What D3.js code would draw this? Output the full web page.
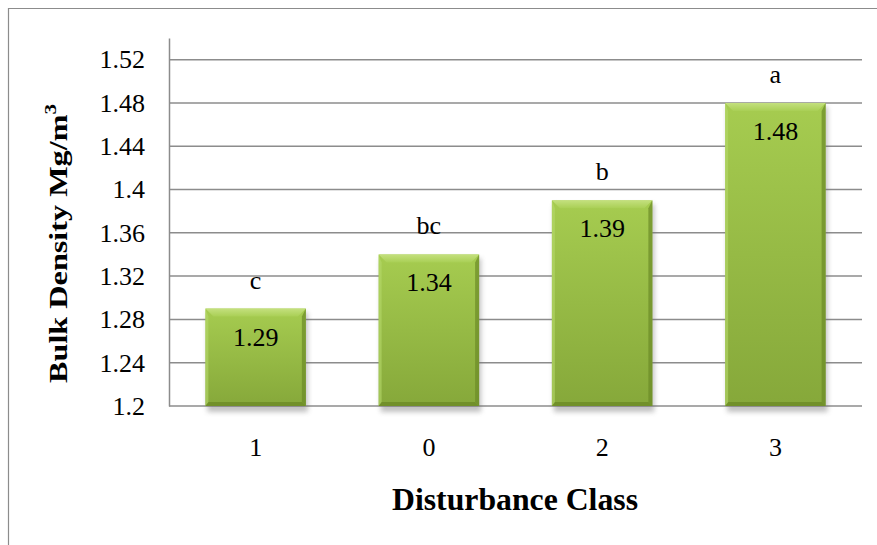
<!DOCTYPE html>
<html><head><meta charset="utf-8">
<script src="https://cdn.jsdelivr.net/npm/d3@7"></script>
<style>body{margin:0;background:#fff}svg{display:block}
text.s{font-family:"Liberation Serif","Times New Roman",serif}</style>
</head><body><svg id="c" width="877" height="545"></svg>
<script>
const categories = ["1","0","2","3"];
const values = [1.29,1.34,1.39,1.48];
const letters = ["c","bc","b","a"];
const yTicks = [1.2,1.24,1.28,1.32,1.36,1.4,1.44,1.48,1.52];
const yTitle = "Bulk Density Mg/m";
const xTitle = "Disturbance Class";

const svg = d3.select("#c");
const W=877,H=545;
const m={l:169,r:15,t:38,b:139};
const x=d3.scaleBand().domain(categories).range([m.l,W-m.r]).paddingInner(0.42).paddingOuter(0.21);
const y=d3.scaleLinear().domain([1.2,1.54]).range([H-m.b,m.t]);
const FF="Liberation Serif";

svg.append("path").attr("d",`M8.5,${H} V8.5 H${W}`).attr("fill","none").attr("stroke","#8c8c8c").attr("stroke-width",1.2);

const defs=svg.append("defs");
const g1=defs.append("linearGradient").attr("id","gf").attr("x1",0).attr("x2",0).attr("y1",0).attr("y2",1);
g1.append("stop").attr("offset","0%").attr("stop-color","#a6cc50");
g1.append("stop").attr("offset","100%").attr("stop-color","#86a83a");
const gt=defs.append("linearGradient").attr("id","gt").attr("x1",0).attr("x2",0).attr("y1",0).attr("y2",1);
gt.append("stop").attr("offset","0%").attr("stop-color","#c4e07e");
gt.append("stop").attr("offset","100%").attr("stop-color","#a9cf55");
const f=defs.append("filter").attr("id","sh").attr("x","-20%").attr("y","-20%").attr("width","140%").attr("height","140%");
f.append("feGaussianBlur").attr("stdDeviation",2.5);

svg.append("g").selectAll("line").data(yTicks).join("line")
 .attr("x1",m.l).attr("x2",W-m.r).attr("y1",d=>y(d)).attr("y2",d=>y(d))
 .attr("stroke","#8c8c8c").attr("stroke-width",1.5);
const ya=svg.append("g").attr("transform",`translate(${m.l},0)`)
 .call(d3.axisLeft(y).tickValues(yTicks).tickSize(0).tickPadding(24).tickFormat(d=>String(+d.toFixed(2))));
ya.attr("font-family",FF).attr("font-size",26);
ya.select(".domain").attr("stroke","#8c8c8c").attr("stroke-width",1.5);
ya.selectAll("text").attr("class","s").attr("font-family",FF).style("font-size","26px").attr("fill","#000");
const xa=svg.append("g").attr("transform",`translate(0,${y(1.2)})`)
 .call(d3.axisBottom(x).tickSize(0).tickPadding(32));
xa.attr("font-family",FF).attr("font-size",26);
xa.select(".domain").remove();
xa.selectAll("text").attr("class","s").attr("font-family",FF).style("font-size","26px").attr("fill","#000");

const bars=svg.append("g").selectAll("g").data(categories.map((c,i)=>({c,v:values[i],l:letters[i]}))).join("g");
bars.append("rect").attr("x",d=>x(d.c)+2).attr("y",d=>y(d.v)+4).attr("width",x.bandwidth()).attr("height",d=>y(1.2)-y(d.v)+2)
 .attr("fill","#666").attr("opacity",0.4).attr("filter","url(#sh)");
bars.append("rect").attr("x",d=>x(d.c)).attr("y",d=>y(d.v)).attr("width",x.bandwidth()).attr("height",d=>y(1.2)-y(d.v))
 .attr("fill","url(#gf)");
const bv=8;
function poly(d,side){
  const x0=x(d.c),x1=x0+x.bandwidth(),y0=y(d.v),y1=y(1.2);
  if(side==="t") return [[x0,y0],[x1,y0],[x1-bv,y0+bv],[x0+bv,y0+bv]];
  if(side==="l") return [[x0,y0],[x0+3,y0+bv],[x0+3,y1-3],[x0,y1]];
  if(side==="r") return [[x1,y0],[x1,y1],[x1-4,y1-4],[x1-4,y0+bv]];
  return [[x0,y1],[x0+3,y1-4],[x1-4,y1-4],[x1,y1]];
}
const bevel={t:["url(#gt)",1],l:["#b6d86a",0.6],r:["#6b8a26",0.7],b:["#6a8824",0.75]};
Object.keys(bevel).forEach(s=>{
  bars.append("polygon").attr("points",d=>poly(d,s).map(p=>p.join(",")).join(" "))
   .attr("fill",bevel[s][0]).attr("opacity",bevel[s][1]);
});
bars.append("text").attr("class","s").attr("font-family",FF).attr("x",d=>x(d.c)+x.bandwidth()/2).attr("y",d=>y(d.v)+37)
 .attr("text-anchor","middle").style("font-size","26px").text(d=>d.v.toFixed(2));
bars.append("text").attr("class","s").attr("font-family",FF).attr("x",d=>x(d.c)+x.bandwidth()/2).attr("y",d=>y(d.v)-20)
 .attr("text-anchor","middle").style("font-size","26px").text(d=>d.l);

svg.append("text").attr("class","s").attr("x",515).attr("y",510).attr("text-anchor","middle")
 .attr("font-weight","bold").style("font-size","32px").attr("textLength",246).attr("lengthAdjust","spacingAndGlyphs").text(xTitle);
const yt=svg.append("text").attr("class","s").attr("transform","translate(67,383) rotate(-90) scale(1.24,1)").attr("text-anchor","start")
 .attr("font-weight","bold").style("font-size","26px");
yt.append("tspan").text(yTitle);
yt.append("tspan").attr("dy",-11).style("font-size","17px").text("3");
</script></body></html>
